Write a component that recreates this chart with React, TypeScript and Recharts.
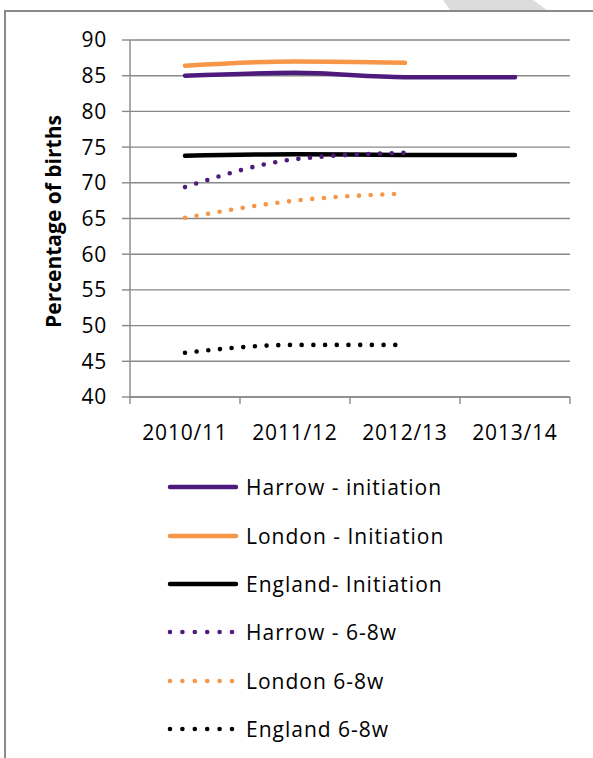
import React from 'react';
import { LineChart, Line, XAxis, YAxis, CartesianGrid, Legend, Label } from 'recharts';

const periods = ['2010/11', '2011/12', '2012/13', '2013/14'];
const harrowInitiation = [85.0, 85.4, 84.8, 84.8];
const londonInitiation = [86.4, 87.0, 86.8, null];
const englandInitiation = [73.8, 74.0, 73.9, 73.9];
const harrow68 = [69.4, 73.3, 74.2, null];
const london68 = [65.1, 67.5, 68.5, null];
const england68 = [46.2, 47.3, 47.3, null];
const yTicks = [40, 45, 50, 55, 60, 65, 70, 75, 80, 85, 90];

const seriesNames = [
  'Harrow - initiation',
  'London - Initiation',
  'England- Initiation',
  'Harrow - 6-8w',
  'London 6-8w',
  'England 6-8w',
];
const seriesKeys = ['hi', 'li', 'ei', 'h68', 'l68', 'e68'];
const seriesValues = [harrowInitiation, londonInitiation, englandInitiation, harrow68, london68, england68];
const seriesColors = ['#4E1A7C', '#F79646', '#000000', '#4E1A7C', '#F79646', '#000000'];
const seriesDotted = [false, false, false, true, true, true];

const data = periods.map((p, i) => {
  const row: Record<string, any> = { period: p };
  seriesKeys.forEach((k, s) => {
    row[k] = seriesValues[s][i];
  });
  return row;
});

const W = 593;
const H = 758;
const LEFT = 130;
const RIGHT = 23;
const TOP = 40;
const XAXIS_H = 40;
const PLOT_BOTTOM = 397;
const STEP = (W - LEFT - RIGHT) / periods.length;
const FONT = '"Open Sans", sans-serif';
const GRID = '#888888';
const GRID_W = 1.4;

const XTick = (props: any) => {
  const { x, y, payload, index } = props;
  const half = STEP / 2;
  return (
    <g>
      <line x1={x - half} x2={x - half} y1={y} y2={y + 7} stroke={GRID} strokeWidth={GRID_W} />
      {index === periods.length - 1 && (
        <line x1={x + half} x2={x + half} y1={y} y2={y + 7} stroke={GRID} strokeWidth={GRID_W} />
      )}
      <text x={x} y={y + 43} textAnchor="middle" fontSize={21} fontFamily={FONT} fill="#000" letterSpacing={0.8}>
        {payload.value}
      </text>
    </g>
  );
};

const YLabel = (props: any) => {
  const vb = props.viewBox || {};
  const cx = (vb.x || 0) + 61;
  const cy = (vb.y || 0) + (vb.height || 0) / 2 + 3;
  return (
    <text
      x={cx}
      y={cy}
      transform={`rotate(-90, ${cx}, ${cy})`}
      textAnchor="middle"
      fontSize={21}
      fontWeight="bold"
      fontFamily={FONT}
      fill="#000"
    >
      Percentage of births
    </text>
  );
};

const LegendContent = () => (
  <div style={{ fontFamily: FONT, fontSize: 21, color: '#000' }}>
    {seriesNames.map((name, i) => (
      <div key={name} style={{ height: 48.4, display: 'flex', alignItems: 'center', whiteSpace: 'nowrap' }}>
        <svg width={80} height={12} style={{ display: 'block' }}>
          {seriesDotted[i] ? (
            <line
              x1={4}
              x2={66}
              y1={6}
              y2={6}
              stroke={seriesColors[i]}
              strokeWidth={4.6}
              strokeLinecap="round"
              strokeDasharray="0 12.4"
            />
          ) : (
            <line x1={4} x2={70} y1={6} y2={6} stroke={seriesColors[i]} strokeWidth={4.5} strokeLinecap="round" />
          )}
        </svg>
        <span style={{ letterSpacing: 1 }}>{name}</span>
      </div>
    ))}
  </div>
);

export default function App() {
  return (
    <div style={{ position: 'absolute', left: 0, top: 0, width: W, height: H, background: '#fff', fontFamily: FONT, overflow: 'hidden' }}>
      <svg width={W} height={20} style={{ position: 'absolute', left: 0, top: 0 }}>
        <polygon points="443,0 533,0 547,10 450,10" fill="#DCDCDC" />
      </svg>
      <div style={{ position: 'absolute', left: 4, top: 10, width: W - 4, height: 2, background: '#8A8A8A' }} />
      <div style={{ position: 'absolute', left: 4, top: 10, width: 2, height: H - 10, background: '#8A8A8A' }} />
      <div style={{ position: 'absolute', left: 0, top: 0 }}>
        <LineChart
          width={W}
          height={H}
          data={data}
          margin={{ top: TOP, right: RIGHT, left: 0, bottom: H - PLOT_BOTTOM - XAXIS_H }}
        >
          <CartesianGrid horizontal={true} vertical={false} stroke={GRID} strokeWidth={GRID_W} />
          <XAxis
            dataKey="period"
            padding={{ left: STEP / 2, right: STEP / 2 }}
            height={XAXIS_H}
            tickLine={false}
            tickSize={0}
            tickMargin={0}
            axisLine={{ stroke: GRID, strokeWidth: GRID_W }}
            tick={<XTick />}
            interval={0}
          />
          <YAxis
            width={LEFT}
            domain={[40, 90]}
            ticks={yTicks}
            interval={0}
            tickSize={8}
            tickMargin={15}
            axisLine={{ stroke: GRID, strokeWidth: GRID_W }}
            tickLine={{ stroke: GRID, strokeWidth: GRID_W }}
            tick={{ fontSize: 21, fontFamily: FONT, fill: '#000', letterSpacing: 0.8 }}
          >
            <Label content={<YLabel />} />
          </YAxis>
          <Legend
            layout="vertical"
            align="center"
            verticalAlign="middle"
            content={<LegendContent />}
            wrapperStyle={{ position: 'absolute', top: 463, left: 166, width: 340, height: 300 }}
          />
          {seriesKeys.map((k, i) => (
            <Line
              key={k}
              type="monotone"
              dataKey={k}
              name={seriesNames[i]}
              stroke={seriesColors[i]}
              strokeWidth={seriesDotted[i] ? 4.6 : 4.5}
              strokeLinecap="round"
              strokeDasharray={seriesDotted[i] ? '0 11.7' : undefined}
              dot={false}
              activeDot={false}
              connectNulls={false}
              isAnimationActive={false}
            />
          ))}
        </LineChart>
      </div>
    </div>
  );
}
